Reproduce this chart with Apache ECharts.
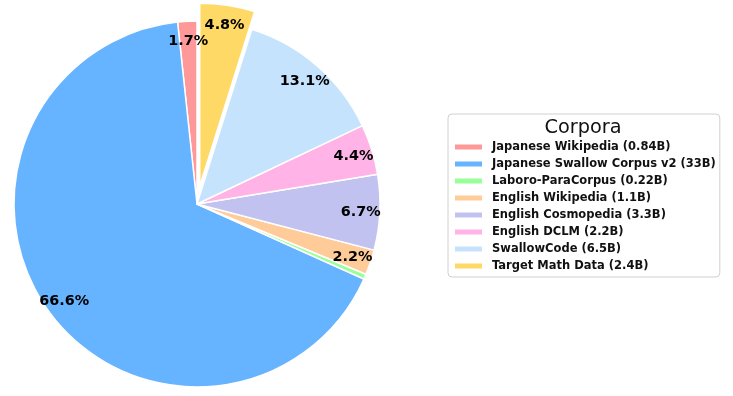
<!DOCTYPE html>
<html>
<head>
<meta charset="utf-8">
<script src="https://cdn.jsdelivr.net/npm/echarts@6/dist/echarts.min.js"></script>
<style>html,body{margin:0;padding:0;background:#fff;}#c{width:733px;height:396px;}</style>
</head>
<body>
<div id="c"></div>
<script>
const categories = ['Japanese Wikipedia', 'Japanese Swallow Corpus v2', 'Laboro-ParaCorpus', 'English Wikipedia', 'English Cosmopedia', 'English DCLM', 'SwallowCode', 'Target Math Data'];
const tokensB = [0.84, 33, 0.22, 1.1, 3.3, 2.2, 6.5, 2.4];
const tokenLabels = ['0.84B', '33B', '0.22B', '1.1B', '3.3B', '2.2B', '6.5B', '2.4B'];
const colors = ['#ff9999', '#66b3ff', '#99ff99', '#ffcc99', '#c2c2f0', '#ffb3e6', '#c6e3fd', '#ffd966'];
const explodedName = 'Target Math Data';
const legendTitle = 'Corpora';

const R = 183;            // pie radius (px)
const OFFSET = 18;        // explode offset (px)
const PCT_DIST = 0.896;   // label distance as a fraction of radius

const total = tokensB.reduce((a, b) => a + b, 0);
const legendName = (i) => categories[i] + ' (' + tokenLabels[i] + ')';

// label points in polar coords: [radius fraction, angle value along the data axis]
const labelPoints = [];
let cum = 0;
tokensB.forEach((v, i) => {
  const pct = v / total * 100;
  const r = PCT_DIST + (categories[i] === explodedName ? OFFSET / R : 0);
  if (pct >= 1) labelPoints.push({ value: [r, cum + v / 2], pct: pct });
  cum += v;
});

const chart = echarts.init(document.getElementById('c'), null, { renderer: 'canvas' });
chart.setOption({
  animation: false,
  backgroundColor: '#fff',
  polar: { center: [197, 205], radius: R },
  angleAxis: { type: 'value', min: 0, max: total, startAngle: 90, clockwise: false, show: false },
  radiusAxis: { type: 'value', min: 0, max: 1, show: false },
  legend: {
    orient: 'vertical',
    left: 448,
    top: 114,
    padding: [27, 4, 5, 5],
    itemWidth: 29,
    itemHeight: 7,
    itemGap: 5,
    icon: 'rect',
    borderColor: '#d0d0d0',
    borderWidth: 1,
    borderRadius: 4,
    selectedMode: false,
    data: categories.map((c, i) => legendName(i)),
    textStyle: {
      fontFamily: 'DejaVu Sans',
      fontWeight: 'bold',
      fontSize: 11.5,
      lineHeight: 12,
      color: '#111',
      padding: [0, 0, 0, 4]
    }
  },
  graphic: [{
    type: 'text',
    x: 583,
    y: 128,
    style: {
      text: legendTitle,
      fontFamily: 'DejaVu Sans',
      fontSize: 19.3,
      fill: '#111',
      textAlign: 'center',
      textVerticalAlign: 'middle'
    }
  }],
  series: [{
    type: 'pie',
    center: [197, 204],
    radius: [0, R],
    startAngle: 90,
    clockwise: false,
    selectedMode: 'single',
    selectedOffset: OFFSET,
    avoidLabelOverlap: false,
    silent: true,
    itemStyle: { borderColor: '#fff', borderWidth: 1.5 },
    label: { show: false },
    labelLine: { show: false },
    emphasis: { disabled: true },
    data: categories.map((c, i) => ({
      name: legendName(i),
      value: tokensB[i],
      selected: c === explodedName,
      itemStyle: { color: colors[i] }
    }))
  }, {
    type: 'scatter',
    coordinateSystem: 'polar',
    symbolSize: 1,
    itemStyle: { color: 'rgba(0,0,0,0)', opacity: 1 },
    silent: true,
    z: 5,
    label: {
      show: true,
      position: 'inside',
      fontFamily: 'DejaVu Sans',
      fontWeight: 'bold',
      fontSize: 14.4,
      color: '#000',
      opacity: 1,
      textBorderWidth: 0,
      formatter: (p) => labelPoints[p.dataIndex].pct.toFixed(1) + '%'
    },
    emphasis: { disabled: true },
    data: labelPoints.map(d => d.value)
  }]
});
</script>
</body>
</html>
